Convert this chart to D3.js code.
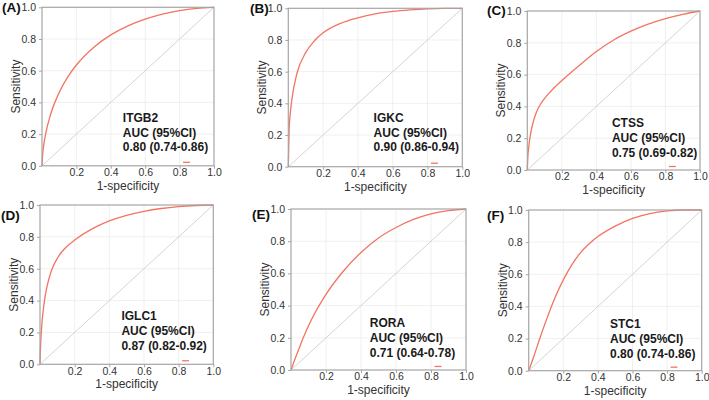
<!DOCTYPE html>
<html>
<head>
<meta charset="utf-8">
<script src="https://cdn.jsdelivr.net/npm/d3@7"></script>
<style>
  body { margin: 0; background: #fff; }
  text { font-family: "Liberation Sans", Arial, sans-serif; }
</style>
</head>
<body>
<main></main>
<script>
/*** data ***/

const panelTags = ["(A)", "(B)", "(C)", "(D)", "(E)", "(F)"]
const genes = ["ITGB2", "IGKC", "CTSS", "IGLC1", "RORA", "STC1"]
const aucText = ["0.80 (0.74-0.86)", "0.90 (0.86-0.94)", "0.75 (0.69-0.82)",
                 "0.87 (0.82-0.92)", "0.71 (0.64-0.78)", "0.80 (0.74-0.86)"]

// [1-specificity, sensitivity]
const rocITGB2 = [[0,0],[0.003,0.06],[0.01,0.13],[0.02,0.195],[0.05,0.325],[0.1,0.463],[0.15,0.561],
  [0.2,0.636],[0.3,0.747],[0.4,0.826],[0.5,0.883],[0.6,0.925],[0.7,0.957],[0.8,0.979],[0.9,0.993],[1,1]]
const rocIGKC = [[0,0],[0.005,0.24],[0.01,0.32],[0.02,0.42],[0.05,0.59],[0.1,0.72],[0.15,0.795],
  [0.2,0.845],[0.3,0.905],[0.4,0.94],[0.5,0.965],[0.6,0.98],[0.7,0.99],[0.8,0.997],[0.9,1],[1,1]]
const rocCTSS = [[0,0],[0.003,0.08],[0.008,0.14],[0.015,0.2],[0.025,0.26],[0.035,0.305],[0.05,0.355],
  [0.064,0.39],[0.08,0.42],[0.1,0.45],[0.125,0.482],[0.15,0.511],[0.2,0.563],[0.3,0.657],[0.4,0.745],
  [0.5,0.818],[0.6,0.873],[0.7,0.917],[0.8,0.952],[0.9,0.979],[1,1]]
const rocIGLC1 = [[0,0],[0.002,0.08],[0.005,0.15],[0.01,0.24],[0.02,0.35],[0.03,0.43],[0.045,0.51],
  [0.062,0.575],[0.08,0.625],[0.1,0.665],[0.125,0.705],[0.15,0.735],[0.2,0.78],[0.3,0.85],[0.4,0.9],
  [0.5,0.935],[0.6,0.96],[0.7,0.978],[0.8,0.99],[0.9,0.997],[1,1]]
const rocRORA = [[0,0],[0.02,0.06],[0.05,0.145],[0.07,0.2],[0.118,0.315],[0.2,0.47],[0.3,0.615],
  [0.4,0.73],[0.5,0.82],[0.6,0.885],[0.7,0.935],[0.8,0.97],[0.9,0.99],[1,1]]
const rocSTC1 = [[0,0],[0.03,0.09],[0.064,0.2],[0.1,0.31],[0.15,0.45],[0.2,0.565],[0.25,0.66],
  [0.3,0.735],[0.35,0.79],[0.4,0.835],[0.5,0.9],[0.6,0.948],[0.7,0.978],[0.8,0.994],[0.9,1],[1,1]]

const curves = [rocITGB2, rocIGKC, rocCTSS, rocIGLC1, rocRORA, rocSTC1]

const xTicks = [0.2, 0.4, 0.6, 0.8, 1.0]
const yTicks = [0, 0.2, 0.4, 0.6, 0.8, 1.0]
const gridTicks = [0.2, 0.4, 0.6, 0.8]

/*** layout ***/

const svgWidth = 709
const svgHeight = 400

// plot box of each panel: left, top, right, bottom
const boxes = [
    [42, 7.3, 214, 165.8],
    [288.3, 8.3, 462.3, 166.7],
    [527.3, 11, 700, 170],
    [40, 205, 213.3, 364.3],
    [291, 209, 466, 370],
    [528.7, 210, 701.7, 370.7]
]
// panel tag position (x, baseline)
const tagPos = [[2, 12], [250, 12.5], [487, 15], [1, 220], [252, 219], [487, 220]]
// annotation x (in data units) and first baseline offset from plot bottom
const notePos = [[0.47, 44], [0.49, 45], [0.49, 43], [0.47, 44], [0.45, 43], [0.47, 42.5]]

const curveColor = "#f27462"
const textColor = "#333"

let svg = d3.select("main")
    .append("svg")
    .attr("width", svgWidth)
    .attr("height", svgHeight)
    .style("display", "block")

curves.forEach((roc, i) => {
    let [x0, y0, x1, y1] = boxes[i]

    let xScale = d3.scaleLinear().domain([0, 1]).range([x0, x1])
    let yScale = d3.scaleLinear().domain([0, 1]).range([y1, y0])

    let g = svg.append("g")

    // grid
    g.selectAll(".vgrid")
        .data(gridTicks)
        .enter()
        .append("line")
        .attr("x1", d => xScale(d))
        .attr("x2", d => xScale(d))
        .attr("y1", y0)
        .attr("y2", y1)
        .attr("stroke", "#ececec")
        .attr("stroke-width", 0.8)

    g.selectAll(".hgrid")
        .data(gridTicks)
        .enter()
        .append("line")
        .attr("x1", x0)
        .attr("x2", x1)
        .attr("y1", d => yScale(d))
        .attr("y2", d => yScale(d))
        .attr("stroke", "#ececec")
        .attr("stroke-width", 0.8)

    // chance line
    g.append("line")
        .attr("x1", xScale(0))
        .attr("y1", yScale(0))
        .attr("x2", xScale(1))
        .attr("y2", yScale(1))
        .attr("stroke", "#cfcfcf")
        .attr("stroke-width", 0.9)

    // roc curve
    let line = d3.line()
        .x(d => xScale(d[0]))
        .y(d => yScale(d[1]))
        .curve(d3.curveMonotoneX)

    g.append("path")
        .datum(roc)
        .attr("d", line)
        .attr("fill", "none")
        .attr("stroke", curveColor)
        .attr("stroke-width", 1.3)

    // little legend key left over near the bottom
    g.append("line")
        .attr("x1", xScale(0.82))
        .attr("x2", xScale(0.86))
        .attr("y1", yScale(0.022))
        .attr("y2", yScale(0.022))
        .attr("stroke", curveColor)
        .attr("stroke-width", 1.3)

    // frame
    g.append("rect")
        .attr("x", x0)
        .attr("y", y0)
        .attr("width", x1 - x0)
        .attr("height", y1 - y0)
        .attr("fill", "none")
        .attr("stroke", "#a6a6a6")
        .attr("stroke-width", 1.2)

    // axes
    let leftAxis = d3.axisLeft(yScale)
        .tickValues(yTicks)
        .tickSize(3)
        .tickPadding(3)
        .tickFormat(d3.format(".1f"))

    let yAxis = g.append("g")
        .attr("transform", `translate(${x0}, 0)`)
        .call(leftAxis)

    let bottomAxis = d3.axisBottom(xScale)
        .tickValues(xTicks)
        .tickSize(3)
        .tickPadding(0)
        .tickFormat(d3.format(".1f"))

    let xAxis = g.append("g")
        .attr("transform", `translate(0, ${y1})`)
        .call(bottomAxis)

    ;[xAxis, yAxis].forEach(ax => {
        ax.select(".domain").remove()
        ax.selectAll("line").attr("stroke", "#a6a6a6")
        ax.selectAll("text")
            .attr("fill", textColor)
            .style("font-size", "10.5px")
            .style("font-family", "'Liberation Sans', Arial, sans-serif")
    })

    // axis titles
    g.append("text")
        .attr("x", (x0 + x1) / 2)
        .attr("y", y1 + 24)
        .style("text-anchor", "middle")
        .style("font-size", "12px")
        .attr("fill", textColor)
        .text("1-specificity")

    g.append("text")
        .attr("transform", `translate(${x0 - 22}, ${(y0 + y1) / 2}) rotate(-90)`)
        .style("text-anchor", "middle")
        .style("font-size", "12px")
        .attr("fill", textColor)
        .text("Sensitivity")

    // panel tag
    g.append("text")
        .attr("x", tagPos[i][0])
        .attr("y", tagPos[i][1])
        .style("font-size", "13.5px")
        .style("font-weight", "bold")
        .attr("fill", "#111")
        .text(panelTags[i])

    // annotation
    let noteX = xScale(notePos[i][0])
    let noteY = y1 - notePos[i][1]
    let noteLines = [genes[i], "AUC (95%CI)", aucText[i]]

    g.selectAll(".note")
        .data(noteLines)
        .enter()
        .append("text")
        .attr("x", noteX)
        .attr("y", (d, k) => noteY + k * 14.8)
        .style("font-size", "12px")
        .style("font-weight", "bold")
        .attr("fill", "#1a1a1a")
        .text(d => d)
})
</script>
</body>
</html>
